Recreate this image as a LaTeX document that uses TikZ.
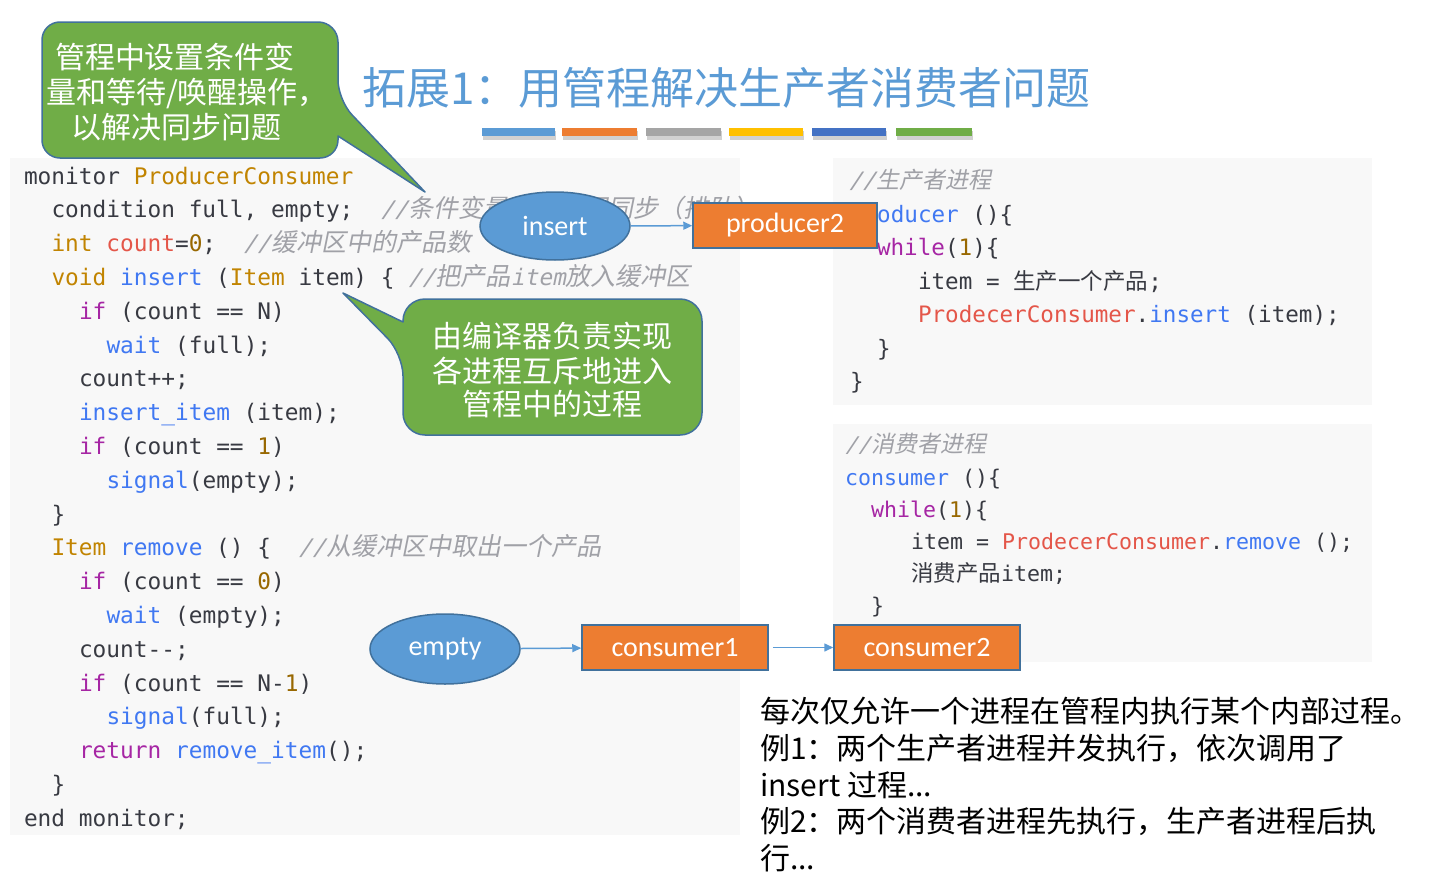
\documentclass[tikz,border=0pt]{standalone}
\usepackage{fontspec}
\usetikzlibrary{shapes.geometric,arrows.meta}
\newfontfamily\monof{DejaVu Sans Mono}
\newfontfamily\monoit{DejaVu Sans Mono}[FakeSlant=0.2]
\newfontfamily\cjk{Noto Sans CJK SC}
\newfontfamily\cjksl{Noto Sans CJK SC}[FakeSlant=0.2]
\newfontfamily\carl{Carlito}
\definecolor{codetxt}{HTML}{383A42}
\definecolor{kwc}{HTML}{A626A4}
\definecolor{fnc}{HTML}{4078F2}
\definecolor{tyc}{HTML}{C18401}
\definecolor{numc}{HTML}{986801}
\definecolor{varc}{HTML}{E45649}
\definecolor{cmc}{HTML}{A0A1A7}
\definecolor{panel}{HTML}{F8F8F8}
\definecolor{ttl}{RGB}{91,155,213}
\definecolor{oblue}{HTML}{5B9BD5}
\definecolor{oorange}{HTML}{ED7D31}
\definecolor{ogrey}{HTML}{A5A5A5}
\definecolor{oyellow}{HTML}{FFC000}
\definecolor{odblue}{HTML}{4472C4}
\definecolor{ogreen}{HTML}{70AD47}
\definecolor{oline}{HTML}{41719C}
\newcommand\qKW[1]{\textcolor{kwc}{#1}}
\newcommand\qFN[1]{\textcolor{fnc}{#1}}
\newcommand\qTY[1]{\textcolor{tyc}{#1}}
\newcommand\qNM[1]{\textcolor{numc}{#1}}
\newcommand\qVR[1]{\textcolor{varc}{#1}}
\newcommand\qCL[1]{\textcolor{cmc}{\monoit #1}}
\newcommand\qCZ[1]{\textcolor{cmc}{\cjksl\fontsize{25}{26}\selectfont #1}}
\newcommand\qCZs[1]{\textcolor{cmc}{\cjksl\fontsize{23}{26}\selectfont #1}}
\newcommand\qZH[1]{{\cjk\fontsize{22.5}{26}\selectfont #1}}
\tikzset{
  code/.style={anchor=base west, inner sep=0pt, outer sep=0pt, text=codetxt,
    font=\monof\fontsize{22.8}{26}\selectfont},
  codeR/.style={code, font=\monof\fontsize{22.6}{26}\selectfont},
  codeB/.style={code, font=\monof\fontsize{21.6}{26}\selectfont},
  callout/.style={fill=ogreen, draw=oline, line width=1.5pt, line join=round},
  calltext/.style={anchor=base, inner sep=0pt, text=white, font=\cjk\fontsize{30}{32}\selectfont},
  oval/.style={ellipse, fill=oblue, draw=oline, line width=1.5pt, inner sep=0pt,
    minimum width=150pt, text=white, font=\carl\fontsize{28}{30}\selectfont},
  procbox/.style={rectangle, fill=oorange, draw=oline, line width=1.5pt, inner sep=0pt,
    minimum height=45pt, text=white, font=\carl\fontsize{28}{30}\selectfont},
  arr/.style={draw=oblue, line width=1.5pt, -{Triangle[length=9pt, width=8pt]}},
  note/.style={anchor=base west, inner sep=0pt, text=black, font=\cjk\fontsize{30}{32}\selectfont},
}
\begin{document}
\begin{tikzpicture}[x=1pt, y=-1pt]
\useasboundingbox (0,0) rectangle (1436,878);
\fill[white] (0,0) rectangle (1436,878);

% title
\node[anchor=base west, inner sep=0pt, text=ttl, font=\cjk\fontsize{44}{48}\selectfont] (title) at (362,104) {拓展1：用管程解决生产者消费者问题};
\foreach \a/\b/\c in {482/555/oblue, 562/637/oorange, 646/721/ogrey, 729/803/oyellow, 812/886/odblue, 896/972/ogreen}{
  \fill[black, opacity=0.18] (\a+1,131) rectangle (\b+1,139.5);
  \fill[\c] (\a,128) rectangle (\b,136);
}

% code panels
\fill[panel] (10,158) rectangle (740,835);
\fill[panel] (833,158) rectangle (1372,405);
\fill[panel] (833,424) rectangle (1372,662);

% left code
\node[code] (L0) at (24,184) {monitor \qTY{ProducerConsumer}};
\node[code] (L1) at (51.5,217.8) {condition full, empty;\ \ \qCL{//}\qCZ{条件变量用来实现同步（排队）}};
\node[code] (L2) at (51.5,251.6) {\qTY{int} \qVR{count}=\qNM{0};\ \ \qCL{//}\qCZ{缓冲区中的产品数}};
\node[code] (L3) at (51.5,285.4) {\qTY{void} \qFN{insert} (\qTY{Item} item) \{ \qCL{//}\qCZ{把产品}\qCL{item}\qCZ{放入缓冲区}};
\node[code] (L4) at (79,319.2) {\qKW{if} (count == N)};
\node[code] (L5) at (106.5,353) {\qFN{wait} (full);};
\node[code] (L6) at (79,386.8) {count++;};
\node[code] (L7) at (79,420.6) {\qFN{insert\textunderscore item} (item);};
\node[code] (L8) at (79,454.4) {\qKW{if} (count == \qNM{1})};
\node[code] (L9) at (106.5,488.2) {\qFN{signal}(empty);};
\node[code] (L10) at (51.5,522) {\}};
\node[code] (L11) at (51.5,555.8) {\qTY{Item} \qFN{remove} () \{\ \ \qCL{//}\qCZ{从缓冲区中取出一个产品}};
\node[code] (L12) at (79,589.6) {\qKW{if} (count == \qNM{0})};
\node[code] (L13) at (106.5,623.4) {\qFN{wait} (empty);};
\node[code] (L14) at (79,657.2) {count-{}-;};
\node[code] (L15) at (79,691) {\qKW{if} (count == N-\qNM{1})};
\node[code] (L16) at (106.5,724.8) {\qFN{signal}(full);};
\node[code] (L17) at (79,758.6) {\qKW{return} \qFN{remove\textunderscore item}();};
\node[code] (L18) at (51.5,792.4) {\}};
\node[code] (L19) at (24,826.2) {end monitor;};

% right top code
\node[codeR] (R0) at (849,188.5) {\qCL{//}\qCZs{生产者进程}};
\node[codeR] (R1) at (850,222) {\qFN{producer} ()\{};
\node[codeR] (R2) at (877,255.5) {\qKW{while}(\qNM{1})\{};
\node[codeR] (R3) at (918,289) {item = \qZH{生产一个产品};};
\node[codeR] (R4) at (918,322.5) {\qVR{ProdecerConsumer}.\qFN{insert} (item);};
\node[codeR] (R5) at (877,356) {\}};
\node[codeR] (R6) at (850,389.5) {\}};

% right bottom code
\node[codeB] (B0) at (845,452) {\qCL{//}\qCZs{消费者进程}};
\node[codeB] (B1) at (845,485) {\qFN{consumer} ()\{};
\node[codeB] (B2) at (871,517) {\qKW{while}(\qNM{1})\{};
\node[codeB] (B3) at (911,549) {item = \qVR{ProdecerConsumer}.\qFN{remove} ();};
\node[codeB] (B4) at (911,581) {\qZH{消费产品}item;};
\node[codeB] (B5) at (871,613) {\}};

% callout 1
\draw[callout] (190,22) [rounded corners=20pt] -- (338,22) -- (338,100) [sharp corners] -- (425,192) -- (338,136) [rounded corners=18pt] -- (338,158) -- (42,158) -- (42,22) -- cycle;
\node[calltext] (c1a) at (175,68.5) {管程中设置条件变};
\node[calltext, anchor=base west] (c1b) at (46,103) {量和等待/唤醒操作，};
\node[calltext] (c1c) at (176,138.5) {以解决同步问题};

% callout 2
\draw[callout] (552,299) [rounded corners=22pt] -- (702,299) -- (702,435) -- (403,435) -- (403,354) [sharp corners] -- (343,293) -- (403,322) [rounded corners=22pt] -- (403,299) -- cycle;
\node[calltext] (c2a) at (552,347) {由编译器负责实现};
\node[calltext] (c2b) at (552,382) {各进程互斥地进入};
\node[calltext] (c2c) at (552,415) {管程中的过程};

% ovals and boxes
\node[oval, minimum height=68pt] (insert) at (555,226) {insert};
\node[procbox, minimum width=184pt] (producer2) at (785,225.5) {producer2};
\node[oval, minimum height=70pt] (empty) at (445,649) {empty};
\node[procbox, minimum width=186pt] (consumer1) at (675,647.5) {consumer1};
\node[procbox, minimum width=186pt] (consumer2) at (927,647.5) {consumer2};

\draw[arr] (insert) -- (producer2);
\draw[arr] (empty) -- (consumer1);
\draw[arr, shorten <=4pt] (consumer1) -- (consumer2);

% notes
\node[note] (n1) at (760,722) {每次仅允许一个进程在管程内执行某个内部过程。};
\node[note] (n2) at (760,759) {例1：两个生产者进程并发执行，依次调用了};
\node[note] (n3) at (760,796) {insert 过程...};
\node[note] (n4) at (760,832) {例2：两个消费者进程先执行，生产者进程后执};
\node[note] (n5) at (760,869) {行...};
\end{tikzpicture}
\end{document}
